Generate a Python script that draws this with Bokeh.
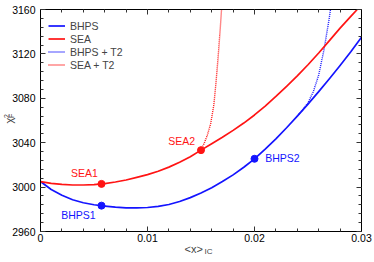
from math import pi
from bokeh.plotting import figure
from bokeh.models import (Range1d, LinearAxis, SingleIntervalTicker, CustomJSTickFormatter,
                          CustomLabelingPolicy, Label, Legend, LegendItem)
from bokeh.embed import file_html
from bokeh.resources import INLINE

# ---- data ----
x_grid = [0.000, 0.001, 0.002, 0.003, 0.004, 0.005, 0.006, 0.007, 0.008, 0.009, 0.010,
          0.011, 0.012, 0.013, 0.014, 0.015, 0.016, 0.017, 0.018, 0.019, 0.020,
          0.021, 0.022, 0.023, 0.024, 0.025, 0.026, 0.027, 0.028, 0.029, 0.030]
bhps_y = [3005.0, 2997.8, 2992.6, 2988.6, 2985.9, 2984.1, 2982.9, 2981.9, 2981.3, 2981.2, 2981.6,
          2982.6, 2984.3, 2987.0, 2990.5, 2994.7, 2999.5, 3005.0, 3011.0, 3017.9, 3025.5,
          3034.2, 3043.5, 3053.5, 3064.0, 3074.8, 3086.0, 3097.6, 3109.6, 3122.0, 3135.0]
sea_x = [0.000, 0.001, 0.002, 0.003, 0.004, 0.005, 0.006, 0.007, 0.008, 0.009, 0.010,
         0.011, 0.012, 0.013, 0.014, 0.015, 0.016, 0.017, 0.018, 0.019, 0.020,
         0.021, 0.022, 0.023, 0.024, 0.025, 0.026, 0.027, 0.028, 0.029, 0.0296]
sea_y = [3005.0, 3003.4, 3002.4, 3001.9, 3001.9, 3002.3, 3003.2, 3004.6, 3006.4, 3008.7, 3011.2,
         3014.3, 3018.0, 3022.3, 3027.4, 3033.3, 3039.0, 3044.9, 3051.1, 3057.7, 3065.0,
         3073.0, 3081.7, 3090.8, 3100.2, 3110.2, 3120.8, 3132.0, 3143.2, 3153.8, 3160.0]

bhps_t2_x = [0.0240, 0.0245, 0.0250, 0.0255, 0.0260, 0.0265, 0.0270, 0.0271]
bhps_t2_y = [3064.0, 3069.5, 3076.0, 3086.0, 3101.0, 3124.0, 3153.0, 3160.0]
sea_t2_x = [0.0150, 0.0153, 0.0156, 0.0159, 0.0162, 0.0164, 0.0166, 0.0168, 0.01692]
sea_t2_y = [3033.3, 3039.5, 3047.0, 3057.0, 3074.0, 3094.0, 3117.0, 3143.0, 3160.0]

bhps_pts_x = [0.0057, 0.0200]
bhps_pts_y = [2983.3, 3025.5]
bhps_pts_names = ["BHPS1", "BHPS2"]
sea_pts_x = [0.0057, 0.0150]
sea_pts_y = [3002.9, 3033.3]
sea_pts_names = ["SEA1", "SEA2"]

legend_labels = ["BHPS", "SEA", "BHPS + T2", "SEA + T2"]
x_lo, x_hi = 0.0, 0.03
y_lo, y_hi = 2960, 3160

BLUE = "#1414ff"
RED = "#ff1414"
FONT = "Liberation Sans"

# ---- layout (pixels) ----
W, H = 374, 262
pad_l, pad_r, pad_t, pad_b = 40, 13, 9, 31
ux = (x_hi - x_lo) / (W - pad_l - pad_r)
uy = (y_hi - y_lo) / (H - pad_t - pad_b)

p = figure(width=W, height=H, output_backend="svg", toolbar_location=None,
           x_range=Range1d(x_lo - pad_l * ux, x_hi + pad_r * ux),
           y_range=Range1d(y_lo - pad_b * uy, y_hi + pad_t * uy),
           min_border=0, x_axis_type=None, y_axis_type=None)
p.xgrid.visible = False
p.ygrid.visible = False
p.outline_line_color = None

hide_all = CustomLabelingPolicy(code="for (const i of Array.from(indices)) indices.unset(i)")

def style_axis(ax, show_labels, standoff):
    ax.major_tick_in = 5
    ax.major_tick_out = 0
    ax.minor_tick_in = 3
    ax.minor_tick_out = 0
    ax.axis_line_color = "black"
    ax.axis_line_width = 1
    ax.major_tick_line_color = "#333333"
    ax.minor_tick_line_color = "#333333"
    ax.major_label_text_font = FONT
    ax.major_label_text_color = "black"
    ax.major_label_text_font_size = "10.5px"
    ax.major_label_standoff = standoff
    if not show_labels:
        ax.major_label_policy = hide_all

xfmt = CustomJSTickFormatter(code="return Number(tick.toFixed(4)).toString();")
for loc, fix in [("below", y_lo), ("above", y_hi)]:
    ax = LinearAxis(ticker=SingleIntervalTicker(interval=0.01, num_minor_ticks=5), formatter=xfmt,
                    fixed_location=fix, bounds=(x_lo, x_hi))
    style_axis(ax, loc == "below", 2)
    p.add_layout(ax, loc)
for loc, fix in [("left", x_lo), ("right", x_hi)]:
    ax = LinearAxis(ticker=SingleIntervalTicker(interval=40, num_minor_ticks=5),
                    fixed_location=fix, bounds=(y_lo, y_hi))
    style_axis(ax, loc == "left", 5)
    p.add_layout(ax, loc)

r_bt2 = p.line(bhps_t2_x, bhps_t2_y, color=BLUE, line_width=1.4, line_dash="1 1")
r_st2 = p.line(sea_t2_x, sea_t2_y, color=RED, line_width=1.4, line_dash="1 1")
r_b = p.line(x_grid, bhps_y, color=BLUE, line_width=1.7, line_join="round")
r_s = p.line(sea_x, sea_y, color=RED, line_width=1.7, line_join="round")
p.scatter(bhps_pts_x, bhps_pts_y, size=7, color=BLUE)
p.scatter(sea_pts_x, sea_pts_y, size=7, color=RED)

# point labels
lab_specs = [
    (sea_pts_names[0], 0.0041, 3012.3, RED, "center"),
    (sea_pts_names[1], 0.0132, 3041.4, RED, "center"),
    (bhps_pts_names[0], 0.00355, 2975.3, BLUE, "center"),
    (bhps_pts_names[1], 0.0210, 3025.8, BLUE, "left"),
]
for txt, lx, ly, col, al in lab_specs:
    p.add_layout(Label(x=lx, y=ly, text=txt, text_color=col, text_font=FONT,
                       text_font_size="10.5px", text_align=al, text_baseline="middle"))

# axis titles
p.add_layout(Label(x=0.01346, y=2944.0, text="<x>", text_font=FONT, text_font_size="11px",
                   text_align="left", text_baseline="middle"))
p.add_layout(Label(x=0.01533, y=2942.2, text="IC", text_font=FONT, text_font_size="8px",
                   text_align="left", text_baseline="middle"))
p.add_layout(Label(x=-0.0029, y=3060.0, text="χ", text_font=FONT, text_font_size="11px",
                   text_align="center", text_baseline="middle", angle=pi / 2))
p.add_layout(Label(x=-0.00318, y=3064.1, text="2", text_font=FONT, text_font_size="7px",
                   text_align="center", text_baseline="middle", angle=pi / 2))
p.add_layout(Label(x=-0.00271, y=3064.1, text="F", text_font=FONT, text_font_size="7px",
                   text_align="center", text_baseline="middle", angle=pi / 2))

legend = Legend(items=[LegendItem(label=legend_labels[0], renderers=[r_b]),
                       LegendItem(label=legend_labels[1], renderers=[r_s]),
                       LegendItem(label=legend_labels[2], renderers=[r_bt2]),
                       LegendItem(label=legend_labels[3], renderers=[r_st2])],
                location=(pad_l + 7, H - pad_t - 63), padding=1, margin=0, spacing=0,
                label_height=13, glyph_height=13, glyph_width=17, label_standoff=5,
                label_text_font=FONT, label_text_font_size="10.5px",
                background_fill_alpha=0, border_line_alpha=0)
p.add_layout(legend)

open("out.html", "w").write(file_html(p, INLINE))
